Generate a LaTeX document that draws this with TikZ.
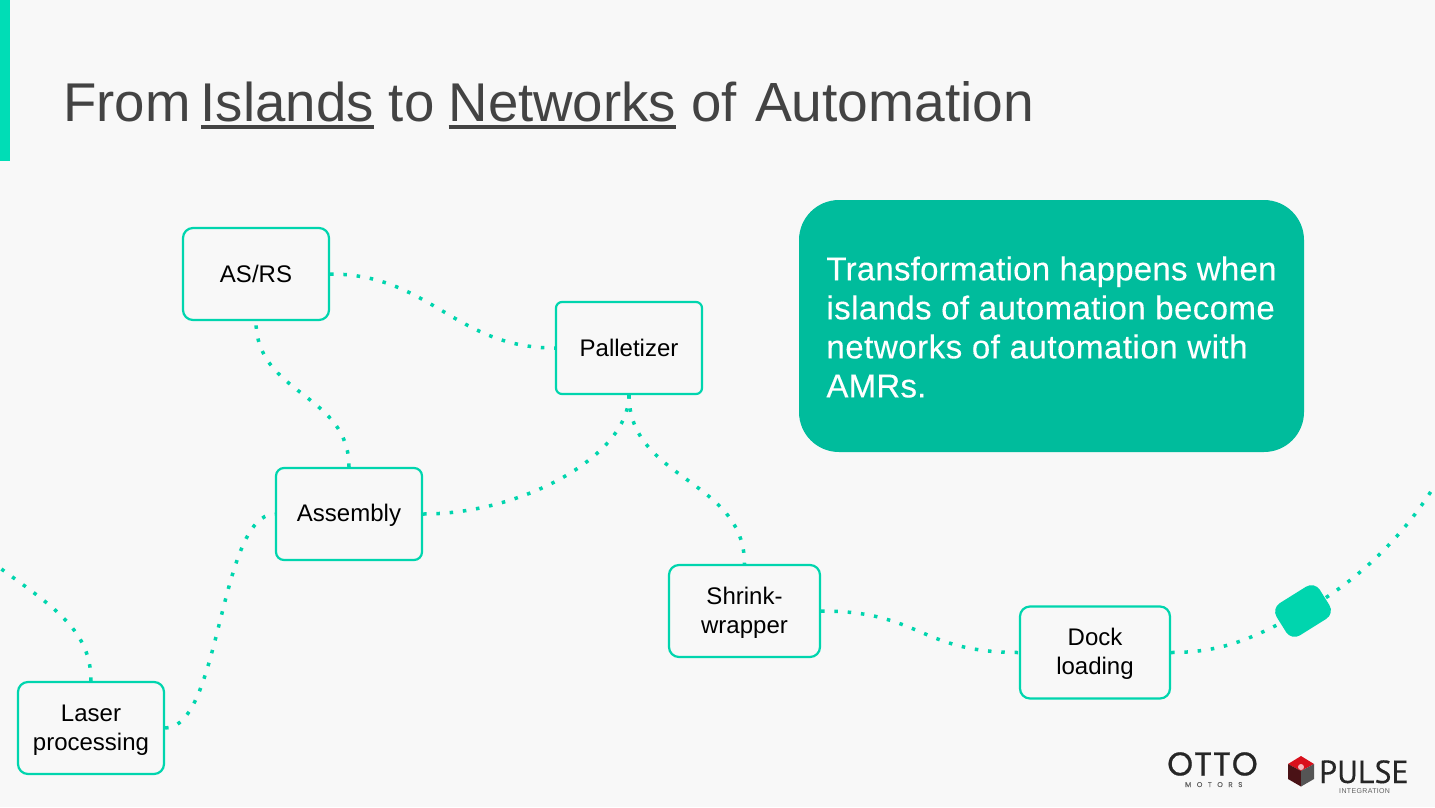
\documentclass[tikz,border=0pt]{standalone}
\usepackage{fontspec}
\usetikzlibrary{backgrounds}
\setmainfont{Liberation Sans}
\newfontfamily\logofont[FakeBold=0.6,LetterSpace=3]{Poppins}
\newfontfamily\motorsfont[FakeBold=0.3,LetterSpace=80]{Poppins}
\newfontfamily\pulsefont[FakeBold=0.3]{PT Sans}
\newfontfamily\integfont[LetterSpace=5]{Liberation Sans}
\newfontfamily\calloutfont[FakeBold=0.25,LetterSpace=0.7]{Liberation Sans}
\newfontfamily\calloutfontb[FakeBold=0.25,LetterSpace=1.25]{Liberation Sans}
\newfontfamily\calloutfontc[FakeBold=0.25,LetterSpace=1.6]{Liberation Sans}
\definecolor{pagebg}{HTML}{F8F8F8}
\definecolor{teal}{HTML}{00D5AE}
\definecolor{barteal}{HTML}{00DDB6}
\definecolor{calloutteal}{HTML}{00BC9C}
\definecolor{titlegrey}{HTML}{434343}
\definecolor{logodark}{HTML}{262626}
\definecolor{logogrey}{HTML}{606060}
\definecolor{cubered}{HTML}{D9101C}
\definecolor{cubemaroon}{HTML}{4A1216}
\definecolor{cubegrey}{HTML}{555555}
\newcommand\ulword[1]{\vtop{\hbox{#1}\kern3pt\hrule height 4.5pt}}
\newcommand\st{\rule[-3.4pt]{0pt}{24pt}}
\tikzset{
  stationbox/.style={draw=teal,line width=2.2pt,rounded corners=10pt,minimum height=92pt,inner sep=0pt,align=center,font=\fontsize{24}{29}\selectfont,text=black},
  dotlink/.style={draw=teal,line width=3.5pt,dash pattern=on 3.5pt off 9.8pt},
  logotext/.style={inner sep=0pt,anchor=base west,text=logodark},
  amrbody/.style={fill=teal,rounded corners=10pt,minimum width=51pt,minimum height=38pt,inner sep=0pt,rotate=32}
}
\begin{document}
\begin{tikzpicture}[x=1pt,y=-1pt]
\useasboundingbox (0,0) rectangle (1435,807);
\fill[barteal] (0,0) rectangle (10,161);
\node[inner sep=0pt,anchor=base west,text=titlegrey,font=\fontsize{54.6}{60}\selectfont] (title) at (63,121) {From\hspace{-5pt} \ulword{Islands} to\hspace{-1pt} \ulword{Networks} of\hspace{3pt} {\fontsize{55.2}{60}\selectfont Automation}};
\node[stationbox,minimum width=146pt] (asrs) at (256,274) {\st AS/RS};
\node[stationbox,minimum width=146pt,rounded corners=6pt] (pal) at (629,348) {\st Palletizer};
\node[stationbox,minimum width=146pt,rounded corners=8pt] (asm) at (349,514) {\st Assembly};
\node[stationbox,minimum width=146pt] (laser) at (91,728) {\st Laser\\\st processing};
\node[stationbox,minimum width=151pt] (shrink) at (744.5,611) {\st Shrink-\\\st wrapper};
\node[stationbox,minimum width=150pt] (dock) at (1095,652.5) {\st Dock\\\st loading};
\node[fill=calloutteal,rounded corners=40pt,minimum width=505pt,minimum height=252pt,inner sep=0pt,text=white,align=left,font=\calloutfont\fontsize{33}{39}\selectfont] (callout) at (1051.5,326) {\rule{0pt}{26pt}Transformation happens when\\{\calloutfontb\fontsize{33}{39}\selectfont islands of automation become}\\{\calloutfontc\fontsize{33}{39}\selectfont networks of automation with}\\AMRs.};
\node[amrbody] (amr) at (1303,611) {};
\coordinate (offleft) at (0,568);
\coordinate (offright) at (1435,485);
\begin{scope}[on background layer]
\fill[pagebg] (0,0) rectangle (1435,807);
\draw[dotlink] (asrs.east) .. controls +(100,0) and +(-100,0) .. (pal.west);
\draw[dotlink] (asm.north) .. controls +(0,-74) and +(0,74) .. (asrs.south);
\draw[dotlink] (asm.east) .. controls +(100,0) and +(0,60) .. (pal.south);
\draw[dotlink] (laser.east) .. controls +(56,0) and +(-56,0) .. (asm.west);
\draw[dotlink] (pal.south) .. controls +(0,85) and +(0,-85) .. (shrink.north);
\draw[dotlink] (shrink.east) .. controls +(100,0) and +(-100,0) .. (dock.west);
\draw[dotlink] (dock.east) .. controls +(50,0) and +(-50,28) .. (amr.center);
\draw[dotlink] (amr.center) .. controls +(37,-19) and +(-40,65) .. (offright);
\draw[dotlink] (laser.north) .. controls +(0,-50) and +(55,40) .. (offleft);
\end{scope}
% logos
\node[logotext,font=\logofont\fontsize{33}{33}\selectfont] (otto) at (1167,775.5) {OTTO};
\node[logotext,text=logogrey,font=\motorsfont\fontsize{7}{7}\selectfont] (motors) at (1185,787) {MOTORS};
\node[logotext,font=\pulsefont\fontsize{32}{32}\selectfont] (pulse) at (1319,783) {PULSE};
\node[logotext,text=logogrey,font=\integfont\fontsize{7}{7}\selectfont] (integ) at (1339,793) {INTEGRATION};
\coordinate (ct) at (1301,756);
\coordinate (cr) at (1314,764);
\coordinate (cm) at (1301,771);
\coordinate (cl) at (1288,764);
\coordinate (crb) at (1314,779);
\coordinate (cb) at (1301,786.5);
\coordinate (clb) at (1288,779);
\fill[cubered] (ct) -- (cr) -- (cm) -- (cl) -- cycle;
\fill[cubemaroon] (cl) -- (cm) -- (cb) -- (clb) -- cycle;
\fill[cubegrey] (cr) -- (cm) -- (cb) -- (crb) -- cycle;
\fill[white!70!cubered] (1301,767) circle (3pt);
\end{tikzpicture}
\end{document}
